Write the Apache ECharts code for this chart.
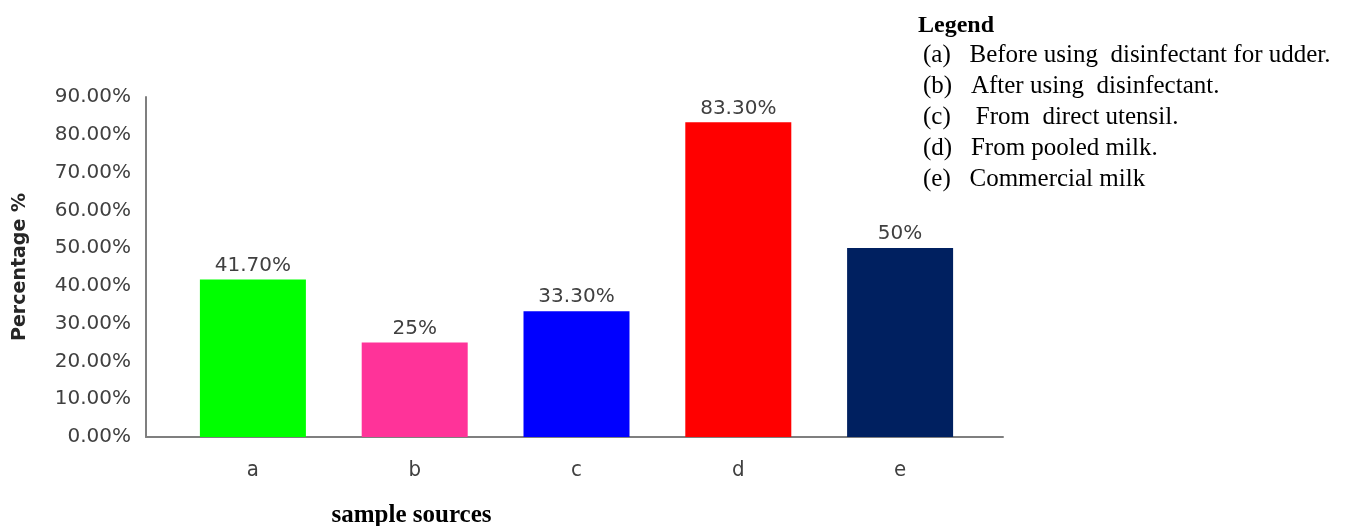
<!DOCTYPE html>
<html>
<head>
<meta charset="utf-8">
<title>Percentage by sample source</title>
<script src="https://cdn.jsdelivr.net/npm/echarts@6.0.0/dist/echarts.min.js"></script>
<style>
  html, body { margin: 0; padding: 0; background: #fff; }
  #chart { width: 1349px; height: 526px; }
</style>
</head>
<body>
<div id="chart"></div>
<script>
// 数据
const categories = ['a', 'b', 'c', 'd', 'e'];
const values = [41.7, 25, 33.3, 83.3, 50];
const valueLabels = ['41.70%', '25%', '33.30%', '83.30%', '50%'];
const barColors = ['#00ff00', '#ff3399', '#0000ff', '#ff0000', '#002060'];
const legendLines = [
  '(a)   Before using  disinfectant for udder.',
  '(b)   After using  disinfectant.',
  '(c)    From  direct utensil.',
  '(d)   From pooled milk.',
  '(e)   Commercial milk'
];

const AXIS_GRAY = '#7f7f7f';
const TEXT_GRAY = '#404040';
const SANS = 'DejaVu Sans';
const SERIF = 'Liberation Serif';

const chart = echarts.init(document.getElementById('chart'));

const option = {
  animation: false,
  title: [
    {
      text: 'Legend',
      left: 913, top: 9,
      textStyle: { fontFamily: SERIF, fontWeight: 'bold', fontSize: 24, color: '#000' }
    },
    {
      text: legendLines.join('\n'),
      left: 918, top: 35,
      textStyle: { fontFamily: SERIF, fontWeight: 'normal', fontSize: 25, color: '#000', lineHeight: 31 }
    }
  ],
  grid: [
    // 坐标框
    { left: 146, right: 346, top: 97, bottom: 89, outerBoundsMode: 'none' },
    // 柱子
    { left: 172, right: 368, top: 97, bottom: 89, outerBoundsMode: 'none' }
  ],
  xAxis: [
    {
      gridIndex: 0, type: 'category', data: [''],
      axisLine: { lineStyle: { color: AXIS_GRAY, width: 2 } },
      axisTick: { show: false }, axisLabel: { show: false }
    },
    {
      gridIndex: 1, type: 'category', data: categories,
      axisLine: { show: false }, axisTick: { show: false },
      axisLabel: { margin: 22, fontFamily: 'DejaVu Sans Condensed', fontSize: 22, color: TEXT_GRAY },
      name: 'sample sources', nameLocation: 'middle', nameGap: 66,
      nameTextStyle: { fontFamily: SERIF, fontWeight: 'bold', fontSize: 25, color: '#000', padding: [0, 330, 0, 0] }
    }
  ],
  yAxis: [
    {
      gridIndex: 0, type: 'value', min: 0, max: 90, interval: 10,
      axisLine: { show: true, lineStyle: { color: AXIS_GRAY, width: 2 } },
      axisTick: { show: false }, splitLine: { show: false },
      axisLabel: {
        margin: 15, fontFamily: SANS, fontSize: 20, color: TEXT_GRAY,
        formatter: v => v.toFixed(2) + '%'
      },
      name: 'Percentage %', nameLocation: 'middle', nameGap: 110, nameRotate: 90,
      nameTextStyle: { fontFamily: SANS, fontWeight: 'bold', fontSize: 19, color: '#262626', padding: [0, 0, 6, 0] }
    },
    {
      gridIndex: 1, type: 'value', min: 0, max: 90, interval: 10,
      axisLine: { show: false }, axisTick: { show: false },
      axisLabel: { show: false }, splitLine: { show: false }
    }
  ],
  series: [
    {
      type: 'bar',
      xAxisIndex: 1, yAxisIndex: 1,
      barWidth: 106,
      data: values.map((v, i) => ({ value: v, itemStyle: { color: barColors[i] } })),
      label: {
        show: true, position: 'top', distance: 4,
        fontFamily: SANS, fontSize: 20, color: TEXT_GRAY,
        formatter: p => valueLabels[p.dataIndex]
      }
    }
  ]
};

chart.setOption(option);
</script>
</body>
</html>
